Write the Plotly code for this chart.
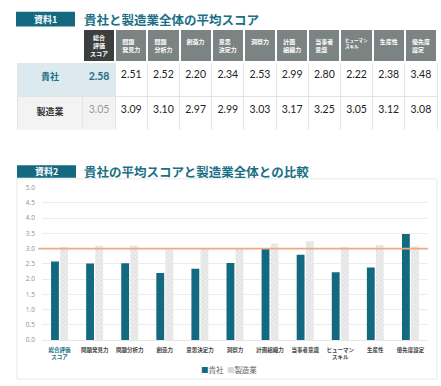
import plotly.graph_objects as go

# ---------------- data ----------------
categories = ["総合評価スコア", "問題発見力", "問題分析力", "創造力", "意思決定力", "洞察力",
              "計画組織力", "当事者意識", "ヒューマンスキル", "生産性", "優先度設定"]
header_labels = ["総合<br>評価<br>スコア", "問題<br>発見力", "問題<br>分析力", "創造力", "意思<br>決定力",
                 "洞察力", "計画<br>組織力", "当事者<br>意識", "ヒューマン<br>スキル", "生産性", "優先度<br>設定"]
axis_labels = ["総合評価<br>スコア", "問題発見力", "問題分析力", "創造力", "意思決定力", "洞察力",
               "計画組織力", "当事者意識", "ヒューマン<br>スキル", "生産性", "優先度設定"]
company_scores = [2.58, 2.51, 2.52, 2.20, 2.34, 2.53, 2.99, 2.80, 2.22, 2.38, 3.48]
industry_scores = [3.05, 3.09, 3.10, 2.97, 2.99, 3.03, 3.17, 3.25, 3.05, 3.12, 3.08]
row_labels = ["貴社", "製造業"]
series_names = ["貴社", "製造業"]
reference_level = 3.0
y_ticks = [0.0, 0.5, 1.0, 1.5, 2.0, 2.5, 3.0, 3.5, 4.0, 4.5, 5.0]

# ---------------- styles ----------------
W, H = 441, 386
TEAL = "#136a80"
TEAL_TXT = "#1b6f86"
GRAY_BAR = "#e4e4e4"
JP = "Noto Sans CJK JP"
NUM = "Lato, Noto Sans CJK JP"
TABLE_X0, TABLE_X1, TABLE_Y0 = 17, 437, 25
LABEL_COL_W, VALUE_COL_W, HEADER_H, ROW_H = 66, 32.2, 33, 34.5

def px(x):
    return x / W

def py(y):
    return 1 - y / H

fig = go.Figure()

# ---------------- table ----------------
n = len(categories)
def header_text(h):
    lines = h.count("<br>") + 1
    if lines >= 3:          # drawn as an overlay label so the header row keeps its height
        return ""
    pre = "<br>" if lines == 1 else ""
    return f"<b>{pre}{h}</b>"

header_vals = [""] + [header_text(h) for h in header_labels]
header_fill = ["white", "#3d3f3f"] + ["#7c8383"] * (n - 1)
header_line = ["white"] * (n + 1)
header_sizes = [7] + [6] * n
header_sizes[9] = 4.5

cell_vals = [[f"<b>{r}</b>" for r in row_labels],
             [f"<b>{company_scores[0]:.2f}</b>", f"{industry_scores[0]:.2f}"]]
for c, i in zip(company_scores[1:], industry_scores[1:]):
    cell_vals.append([f"{c:.2f}", f"{i:.2f}"])
cell_fill = [["#dce9ee", "#f3f3f3"], ["#dce9ee", "#f3f3f3"]] + [["white", "white"]] * (n - 1)
cell_color = [[TEAL_TXT, "#333333"], [TEAL_TXT, "#9a9a9a"]] + [["#222222", "#222222"]] * (n - 1)
cell_sizes = [9] + [10.5] * n
cell_family = [JP] + [NUM] * n

table_bottom = TABLE_Y0 + HEADER_H + 2 * ROW_H + 1
fig.add_trace(go.Table(
    domain=dict(x=[px(TABLE_X0), px(TABLE_X1)], y=[py(table_bottom), py(TABLE_Y0)]),
    columnwidth=[LABEL_COL_W] + [VALUE_COL_W] * n,
    header=dict(values=header_vals, fill_color=header_fill,
                line=dict(color=header_line, width=2),
                font=dict(color="white", size=header_sizes, family=JP),
                align="center", height=HEADER_H),
    cells=dict(values=cell_vals, fill_color=cell_fill,
               line=dict(color="#e4e4e4", width=1),
               font=dict(color=cell_color, size=cell_sizes, family=cell_family),
               align="center", height=ROW_H),
))

# overlay for 3-line header labels
for k, h in enumerate(header_labels):
    if h.count("<br>") >= 2:
        cx = TABLE_X0 + LABEL_COL_W + VALUE_COL_W * (k + 0.5)
        fig.add_annotation(xref="paper", yref="paper", x=px(cx), y=py(TABLE_Y0 + HEADER_H / 2),
                           text=f"<b>{h}</b>", showarrow=False, xanchor="center", yanchor="middle",
                           font=dict(color="white", size=6, family=JP))

# ---------------- bar chart ----------------
fig.add_trace(go.Bar(x=categories, y=company_scores, name=series_names[0], showlegend=False,
                     marker=dict(color=TEAL, line=dict(width=0))))
fig.add_trace(go.Bar(x=categories, y=industry_scores, name=series_names[1], showlegend=False,
                     marker=dict(color=GRAY_BAR, line=dict(width=0),
                                 pattern=dict(shape="x", fgcolor="#cbcbcb", bgcolor="#ededed",
                                              size=3, solidity=0.4))))

tick_text = [f"<span style='color:{TEAL_TXT}'><b>{axis_labels[0]}</b></span>"] + \
            [f"<b>{t}</b>" for t in axis_labels[1:]]

fig.update_layout(
    width=W, height=H, margin=dict(l=0, r=0, t=0, b=0),
    paper_bgcolor="white", plot_bgcolor="white",
    barmode="group", bargap=0.48, bargroupgap=0.14,
    font=dict(family=JP, color="#444"),
    xaxis=dict(domain=[px(42), px(428)], anchor="y",
               tickmode="array", tickvals=categories, ticktext=tick_text,
               tickfont=dict(size=5.5, color="#444", family=JP), tickangle=0,
               showline=True, linecolor="#e6e6e6", showgrid=False, ticks="",
               ticklabelstandoff=4),
    yaxis=dict(domain=[py(343), py(187)], range=[0, 5], tickvals=y_ticks,
               tickformat=".1f", tickfont=dict(size=6.5, color="#8f8f8f", family="Open Sans"),
               showgrid=True, gridcolor="#ececec", gridwidth=1, zeroline=False,
               ticks="", ticklabelstandoff=6),
    showlegend=False,
)

# compact legend line (swatch glyphs + series names)
legend_text = (f"<span style='color:{TEAL}'>■</span>{series_names[0]}  "
               f"<span style='color:#d8d8d8'>■</span>{series_names[1]}")
fig.add_annotation(xref="paper", yref="paper", x=px(229), y=py(373), text=legend_text,
                   showarrow=False, xanchor="center", yanchor="middle",
                   font=dict(size=7.5, color="#666", family=JP))

# reference line at 3.0
fig.add_shape(type="line", xref="x domain", yref="y", x0=-0.01, x1=1,
              y0=reference_level, y1=reference_level,
              line=dict(color="#f0aa80", width=1.6), layer="above")

# chart frame
fig.add_shape(type="rect", xref="paper", yref="paper", x0=px(17), x1=px(437), y0=py(383), y1=py(178),
              line=dict(color="#e8e8e8", width=1), layer="below")

# section labels
for (x0, x1, y0, y1, label, title) in [
    (16, 75, 7, 22, "資料1", "貴社と製造業全体の平均スコア"),
    (17, 76, 164, 177, "資料2", "貴社の平均スコアと製造業全体との比較"),
]:
    fig.add_shape(type="rect", xref="paper", yref="paper", x0=px(x0), x1=px(x1), y0=py(y1), y1=py(y0),
                  fillcolor=TEAL, line=dict(width=0))
    fig.add_annotation(xref="paper", yref="paper", x=px((x0 + x1) / 2), y=py((y0 + y1) / 2),
                       text=f"<b>{label}</b>", showarrow=False,
                       font=dict(color="white", size=9, family=JP), xanchor="center", yanchor="middle")
    fig.add_annotation(xref="paper", yref="paper", x=px(82), y=py((y0 + y1) / 2),
                       text=f"<b>{title}</b>", showarrow=False,
                       font=dict(color=TEAL_TXT, size=12.5, family=JP), xanchor="left", yanchor="middle")

fig.write_html("out.html", config={"displayModeBar": False},
               post_script="document.body.style.margin='0';document.body.style.overflow='hidden';")
